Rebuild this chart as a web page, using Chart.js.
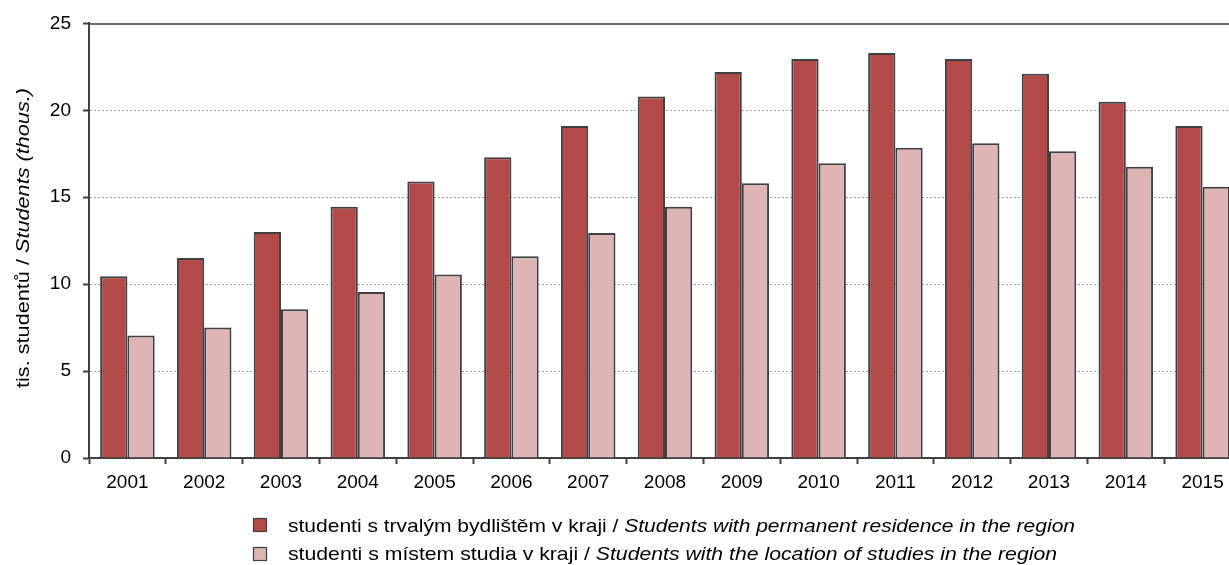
<!DOCTYPE html>
<html><head><meta charset="utf-8">
<script src="https://cdn.jsdelivr.net/npm/chart.js@4.4.0/dist/chart.umd.min.js"></script>
<style>html,body{margin:0;padding:0;overflow:hidden;background:#fff;width:1229px;height:565px}</style>
</head><body>
<canvas id="c" width="1245" height="565" style="display:block;width:1245px;height:565px"></canvas>
<script>
const categories = ['2001','2002','2003','2004','2005','2006','2007','2008','2009','2010','2011','2012','2013','2014','2015'];
const residence = [10.45, 11.5, 13.0, 14.45, 15.9, 17.3, 19.1, 20.8, 22.2, 22.95, 23.3, 22.95, 22.1, 20.5, 19.1];
const studyLocation = [7.05, 7.5, 8.55, 9.55, 10.55, 11.6, 12.95, 14.45, 15.8, 16.95, 17.85, 18.1, 17.65, 16.75, 15.6];
const yTickValues = [0, 5, 10, 15, 20, 25];
const yTitle = [['tis. studentů / ', false], ['Students (thous.)', true]];
const legendResidence = [['studenti s trvalým bydlištěm v kraji / ', false], ['Students with permanent residence in the region', true]];
const legendStudy = [['studenti s místem studia v kraji / ', false], ['Students with the location of studies in the region', true]];

const FONT = '"Liberation Sans", Arial, sans-serif';
const DARK = '#404040';
const C1 = '#B34A4A';
const C2 = '#DDB5B5';

function fontStr(size, italic){ return (italic ? 'italic ' : '') + size + 'px ' + FONT; }
function mixedWidth(ctx, segs, size){
  let w = 0;
  segs.forEach(([t, it]) => { ctx.font = fontStr(size, it); w += ctx.measureText(t).width; });
  return w;
}
function drawMixed(ctx, segs, x, y, size, targetW){
  const w = mixedWidth(ctx, segs, size);
  const sx = targetW ? targetW / w : 1;
  ctx.save();
  ctx.translate(x, y);
  ctx.scale(sx, 1);
  let cx = 0;
  ctx.fillStyle = '#000';
  ctx.textBaseline = 'alphabetic';
  ctx.textAlign = 'left';
  segs.forEach(([t, it]) => { ctx.font = fontStr(size, it); ctx.fillText(t, cx, 0); cx += ctx.measureText(t).width; });
  ctx.restore();
}

const decor = {
  id: 'decor',
  afterDraw(chart){
    const ctx = chart.ctx;
    const a = chart.chartArea;
    ctx.save();
    ctx.strokeStyle = DARK; ctx.lineWidth = 1.5;
    ctx.beginPath(); ctx.moveTo(a.left, a.top + 0.5); ctx.lineTo(a.right, a.top + 0.5); ctx.stroke();
    ctx.restore();
    ctx.save();
    ctx.translate(29, 238);
    ctx.rotate(-Math.PI / 2);
    const tw = 300;
    drawMixed(ctx, yTitle, -tw / 2, 0, 18, tw);
    ctx.restore();
    const items = [[legendResidence, C1, 518, 532, 787], [legendStudy, C2, 547, 560, 769]];
    items.forEach(([segs, col, sy, by, w]) => {
      ctx.save();
      ctx.fillStyle = col; ctx.fillRect(253.5, sy + 0.5, 13, 13);
      ctx.strokeStyle = DARK; ctx.lineWidth = 1.2; ctx.strokeRect(253.5, sy + 0.5, 13, 13);
      ctx.restore();
      drawMixed(ctx, segs, 288, by, 18.5, w);
    });
  }
};

new Chart(document.getElementById('c'), {
  type: 'bar',
  data: {
    labels: categories,
    datasets: [
      { label: 'residence', data: residence, backgroundColor: C1, borderColor: DARK, borderWidth: 2, categoryPercentage: 0.71, barPercentage: 1.0 },
      { label: 'study', data: studyLocation, backgroundColor: C2, borderColor: DARK, borderWidth: 2, categoryPercentage: 0.71, barPercentage: 1.0 }
    ]
  },
  options: {
    responsive: false,
    animation: false,
    layout: { padding: { top: 21, right: 4, bottom: 0, left: 0 } },
    plugins: { legend: { display: false }, tooltip: { enabled: false }, title: { display: false } },
    scales: {
      x: {
        afterFit(s){ s.height = 107; },
        grid: { offset: true, drawOnChartArea: false, drawTicks: true, tickLength: 6, tickColor: DARK, tickWidth: 2 },
        border: { display: true, color: DARK, width: 2 },
        ticks: { color: '#000', font: { family: FONT, size: 19 }, padding: 7, maxRotation: 0 }
      },
      y: {
        min: 0, max: 25,
        afterFit(s){ s.width = 89; },
        afterBuildTicks(s){ s.ticks = yTickValues.map(v => ({ value: v })); },
        grid: {
          color: (c) => (c.tick && (c.tick.value === 0 || c.tick.value === 25)) ? 'rgba(0,0,0,0)' : '#a0a0a0',
          lineWidth: 1,
          drawTicks: true, tickLength: 6, tickColor: DARK, tickWidth: 2, tickBorderDash: []
        },
        border: { display: true, color: DARK, width: 2, dash: [2, 2] },
        ticks: { color: '#000', font: { family: FONT, size: 19 }, padding: 12 }
      }
    }
  },
  plugins: [decor]
});
</script>
</body></html>
